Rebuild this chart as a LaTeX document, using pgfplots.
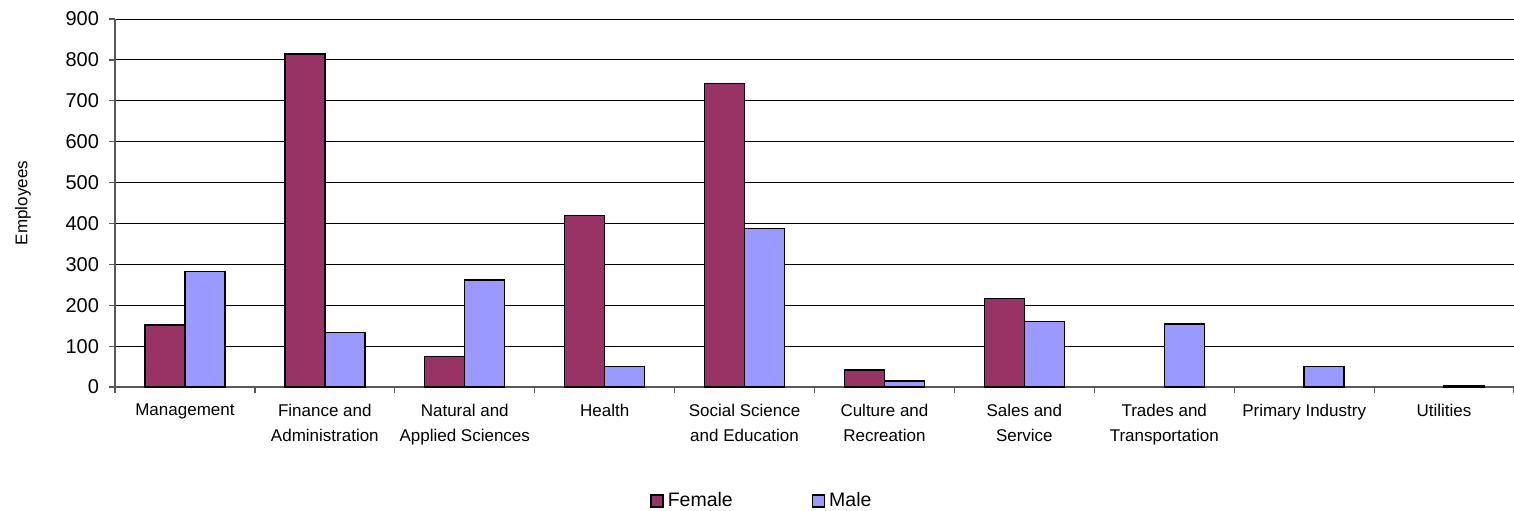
\documentclass[border=0pt]{standalone}
\usepackage{fontspec}
\setmainfont{Liberation Sans}
\usepackage{pgfplots}
\pgfplotsset{compat=1.18}
\definecolor{female}{HTML}{993366}
\definecolor{male}{HTML}{9999FF}

\begin{document}
\begin{tikzpicture}
\useasboundingbox (0,0) rectangle (757pt,255pt);
\begin{axis}[
    at={(57.5pt,61.5pt)}, anchor=south west,
    scale only axis,
    width=699.5pt, height=184pt,
    ybar=0pt, bar width=20pt,
    xmin=-0.5, xmax=9.5,
    ymin=0, ymax=900,
    ytick={0,100,...,900},
    xtick={-0.5,0.5,...,9.5},
    x tick label as interval,
    xticklabels={Management, {Finance and\\Administration}, {Natural and\\Applied Sciences},
        Health, {Social Science\\and Education}, {Culture and\\Recreation},
        {Sales and\\Service}, {Trades and\\Transportation}, Primary Industry, Utilities},
    tick align=outside,
    major tick length=3pt,
    tick style={gray!70!black, line width=0.6pt},
    axis x line*=bottom, axis y line*=left,
    axis line style={gray!70!black, line width=0.75pt, -},
    ymajorgrids,
    major grid style={black, line width=0.5pt},
    /pgf/number format/assume math mode=true,
    yticklabel style={font=\fontsize{10}{12}\selectfont, xshift=-1.5pt},
    xticklabel style={font=\fontsize{8.5}{12.5}\selectfont, align=center, yshift=-2pt},
    ylabel={Employees},
    every axis y label/.style={at={(axis description cs:-0.0657,0.5)}, rotate=90, anchor=center,
        font=\fontsize{8.5}{10}\selectfont},
    legend columns=2,
    legend style={at={(axis description cs:0.3824,-0.31)}, anchor=west, draw=none,
        font=\fontsize{9.75}{12}\selectfont, inner sep=0pt,
        /tikz/every even column/.append style={column sep=37.5pt}},
    legend image code/.code={\draw[#1] (0pt,-3pt) rectangle (6pt,3pt);},
]
\addplot[fill=female, draw=black, line width=0.7pt] coordinates {
    (0,152) (1,814) (2,74) (3,419) (4,743) (5,42) (6,216)
};
\addlegendentry{Female}
\addplot[fill=male, draw=black, line width=0.7pt] coordinates {
    (0,282) (1,133) (2,262) (3,50) (4,387) (5,15) (6,160) (7,154) (8,50) (9,3)
};
\addlegendentry{Male}
\end{axis}
\end{tikzpicture}
\end{document}
